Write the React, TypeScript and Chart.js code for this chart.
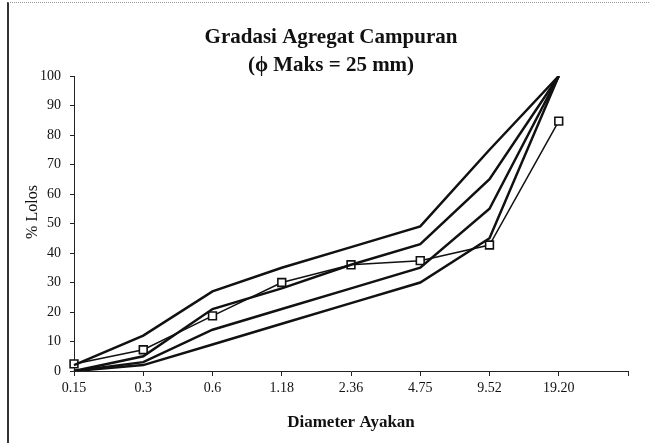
import React, { useEffect, useRef } from "react";
import { Chart, registerables } from "chart.js";

Chart.register(...registerables);

const categories = ["0.15", "0.3", "0.6", "1.18", "2.36", "4.75", "9.52", "19.20", ""];
const curve1 = [0, 2, 9, 16, 23, 30, 45, 100];
const curve2 = [0, 3, 14, 21, 28, 35, 55, 100];
const curve3 = [0, 5, 21, 28, 36, 43, 65, 100];
const curve4 = [2, 12, 27, 35, 42, 49, 75, 100];
const campuran = [2.4, 7.2, 18.7, 30, 36, 37.4, 42.7, 84.7];
const titleLines = ["Gradasi Agregat Campuran", "(\u03D5 Maks = 25 mm)"];
const yTitle = "% Lolos";
const xTitle = "Diameter Ayakan";

const FONT = "'Liberation Serif', 'Times New Roman', serif";

const textPlugin = {
  id: "customText",
  afterDraw(chart: any) {
    const ctx = chart.ctx;
    ctx.save();
    ctx.fillStyle = "#111";
    ctx.textAlign = "center";
    ctx.textBaseline = "middle";
    ctx.font = `bold 21px ${FONT}`;
    ctx.fillText(titleLines[0], 331, 38);
    ctx.fillText(titleLines[1], 331, 66);
    ctx.translate(33, 212);
    ctx.rotate(-Math.PI / 2);
    ctx.font = `16px ${FONT}`;
    ctx.fillText(yTitle, 0, 0);
    ctx.restore();
  },
};

export default function App() {
  const ref = useRef<HTMLCanvasElement | null>(null);
  useEffect(() => {
    if (!ref.current) return;
    const line = (data: number[]) => ({
      data,
      borderColor: "#111",
      borderWidth: 2.5,
      pointRadius: 0,
      fill: false,
      tension: 0,
    });
    const chart = new Chart(ref.current, {
      type: "line",
      data: {
        labels: categories,
        datasets: [
          line(curve1),
          line(curve2),
          line(curve3),
          line(curve4),
          {
            data: campuran,
            borderColor: "#111",
            borderWidth: 1.5,
            pointStyle: "rect",
            pointRadius: 5.5,
            pointBorderWidth: 1.6,
            pointBorderColor: "#111",
            pointBackgroundColor: "#fff",
            fill: false,
            tension: 0,
          },
        ],
      },
      options: {
        responsive: false,
        animation: false,
        layout: { padding: { top: 76, right: 21, bottom: 0, left: 0 } },
        plugins: { legend: { display: false }, tooltip: { enabled: false }, title: { display: false } },
        scales: {
          x: {
            type: "category",
            offset: false,
            border: { display: true, color: "#222", width: 1 },
            grid: { display: true, drawOnChartArea: false, drawTicks: true, tickLength: 5, color: "#222" },
            ticks: { color: "#111", font: { family: FONT, size: 14 }, padding: 4, maxRotation: 0, autoSkip: false },
            title: { display: true, text: xTitle, color: "#111", font: { family: FONT, size: 17, weight: "bold" }, padding: { top: 0, bottom: 10 } },
            afterFit(scale: any) {
              scale.height = 72;
            },
          },
          y: {
            min: 0,
            max: 100,
            border: { display: true, color: "#222", width: 1 },
            grid: { display: true, drawOnChartArea: false, drawTicks: true, tickLength: 4, color: "#222" },
            ticks: { stepSize: 10, color: "#111", font: { family: FONT, size: 14 }, padding: 9 },
            title: { display: false },
            afterFit(scale: any) {
              scale.width = 74;
            },
          },
        },
      },
      plugins: [textPlugin],
    } as any);
    return () => chart.destroy();
  }, []);
  return (
    <div style={{ position: "fixed", left: 0, top: 0, width: 649, height: 443, background: "#fff" }}>
      <div style={{ position: "absolute", left: 7, top: 2, width: 642, height: 441, borderLeft: "2px solid #333", borderTop: "1px dotted #999", boxSizing: "border-box" }} />
      <canvas ref={ref} width={649} height={443} style={{ position: "absolute", left: 0, top: 0 }} />
    </div>
  );
}
